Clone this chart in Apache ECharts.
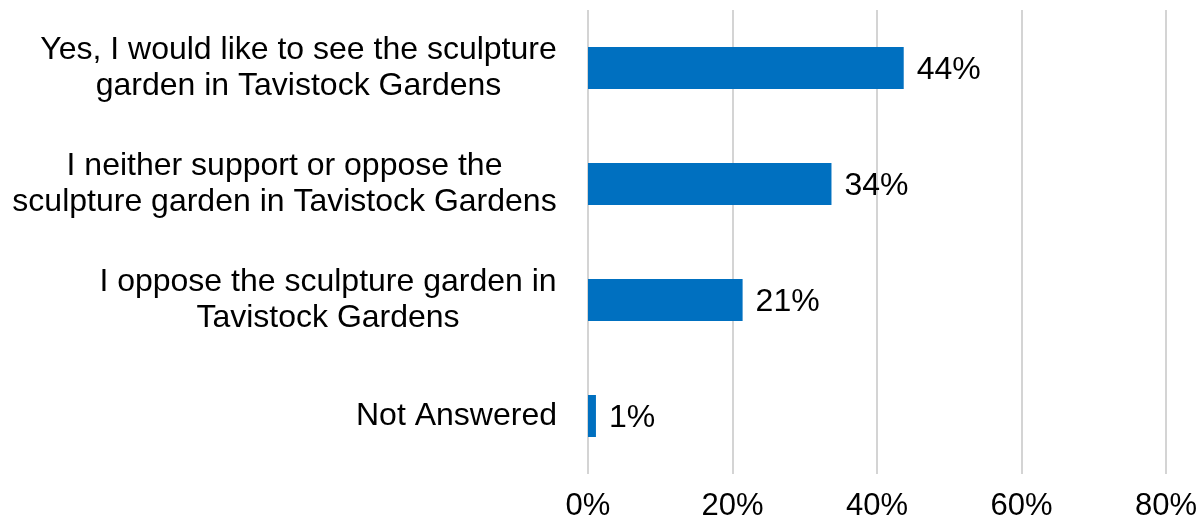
<!DOCTYPE html>
<html><head><meta charset="utf-8">
<script src="https://cdn.jsdelivr.net/npm/echarts@6/dist/echarts.min.js"></script>
<style>html,body{margin:0;padding:0;background:#fff}#c{width:1200px;height:528px}</style>
</head><body><div id="c"></div>
<script>
const categories = [
  "Yes, I would like to see the sculpture\ngarden in Tavistock Gardens",
  "I neither support or oppose the\nsculpture garden in Tavistock Gardens",
  "I oppose the sculpture garden in\nTavistock Gardens",
  "Not Answered"
];
const values = [43.7, 33.7, 21.4, 1.1];
const xTicks = [0, 20, 40, 60, 80];

const FAMILY = '"Liberation Sans", Arial, sans-serif';
const FS = 32;
const cv = document.createElement('canvas').getContext('2d');
cv.font = FS + 'px ' + FAMILY;
const rich = {};
categories.forEach((c, i) => {
  const w = Math.max(...c.split('\n').map(l => cv.measureText(l).width));
  rich['r' + i] = { width: Math.ceil(w), align: 'center', fontSize: FS, lineHeight: 36, color: '#000', fontFamily: FAMILY };
});

const chart = echarts.init(document.getElementById('c'));
chart.setOption({
  animation: false,
  grid: { left: 588, right: 33, top: 10, bottom: 54 },
  xAxis: {
    type: 'value', min: xTicks[0], max: xTicks[xTicks.length - 1], interval: 20,
    axisLine: { show: false }, axisTick: { show: false },
    splitLine: { show: true, lineStyle: { color: '#d4d4d4', width: 2 } },
    axisLabel: { formatter: v => v + '%', fontSize: 31, color: '#000', margin: 17, fontFamily: FAMILY }
  },
  yAxis: {
    type: 'category', data: categories, inverse: true,
    axisLine: { show: false }, axisTick: { show: false },
    axisLabel: {
      margin: 31,
      formatter: (v, idx) => v.split('\n').map(l => '{r' + idx + '|' + l + '}').join('\n'),
      rich: rich
    }
  },
  series: [{
    type: 'bar', data: values, barWidth: 42,
    itemStyle: { color: '#0070C0' },
    label: { show: true, position: 'right', distance: 13, offset: [0, 2], formatter: p => Math.round(p.value) + '%',
      fontSize: 32, color: '#000', fontFamily: FAMILY }
  }]
});
</script></body></html>
